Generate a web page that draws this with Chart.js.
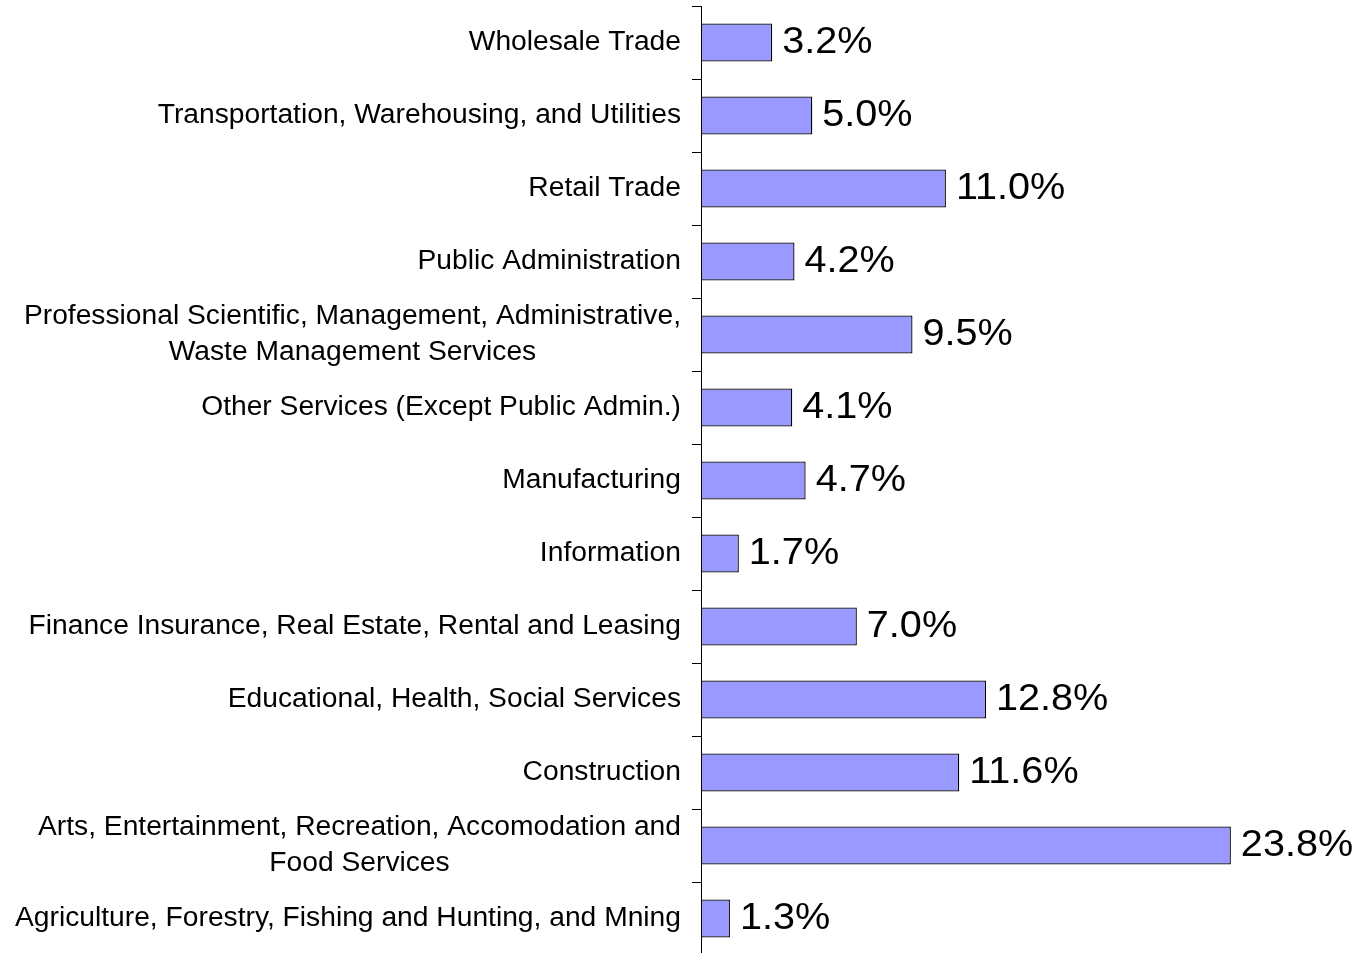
<!DOCTYPE html>
<html>
<head>
<meta charset="utf-8">
<script src="https://cdn.jsdelivr.net/npm/chart.js@4/dist/chart.umd.min.js"></script>
<style>
html,body{margin:0;padding:0;background:#fff;overflow:hidden;}
#c{display:block;}
</style>
</head>
<body>
<canvas id="c" width="1360" height="960"></canvas>
<script>
const categories = [
  ["Wholesale Trade"],
  ["Transportation, Warehousing, and Utilities"],
  ["Retail Trade"],
  ["Public Administration"],
  ["Professional Scientific, Management, Administrative,", "Waste Management Services"],
  ["Other Services (Except Public Admin.)"],
  ["Manufacturing"],
  ["Information"],
  ["Finance Insurance, Real Estate, Rental and Leasing"],
  ["Educational, Health, Social Services"],
  ["Construction"],
  ["Arts, Entertainment, Recreation, Accomodation and", "Food Services"],
  ["Agriculture, Forestry, Fishing and Hunting, and Mning"]
];
const shares = [3.2, 5.0, 11.0, 4.2, 9.5, 4.1, 4.7, 1.7, 7.0, 12.8, 11.6, 23.8, 1.3];

const FONT = '"Liberation Sans", Arial, sans-serif';

function stretchedText(ctx, text, x, y, sx) {
  ctx.save();
  ctx.translate(x, y);
  ctx.scale(sx, 1);
  ctx.fillText(text, 0, 0);
  ctx.restore();
}

const labelPlugin = {
  id: 'labelPlugin',
  afterDraw(chart) {
    const ctx = chart.ctx;
    const yScale = chart.scales.y;
    // category labels (left of axis)
    ctx.save();
    ctx.font = '27px ' + FONT;
    ctx.fillStyle = '#000';
    ctx.textBaseline = 'middle';
    ctx.textAlign = 'center';
    const sx = 1.045;
    const rightEdge = yScale.right - 20;
    const lh = 36;
    chart.data.labels.forEach((lines, i) => {
      const y = yScale.getPixelForValue(i);
      const widest = Math.max(...lines.map(l => ctx.measureText(l).width)) * sx;
      const cx = rightEdge - widest / 2;
      const y0 = y - (lines.length - 1) * lh / 2;
      lines.forEach((l, k) => stretchedText(ctx, l, cx, y0 + k * lh, sx));
    });
    ctx.restore();
    // value labels
    ctx.save();
    ctx.font = '36px ' + FONT;
    ctx.fillStyle = '#000';
    ctx.textBaseline = 'middle';
    ctx.textAlign = 'left';
    const meta = chart.getDatasetMeta(0);
    meta.data.forEach((bar, i) => {
      const v = chart.data.datasets[0].data[i];
      stretchedText(ctx, v.toFixed(1) + '%', bar.x + 10, bar.y + 1, 1.1);
    });
    ctx.restore();
  }
};

new Chart(document.getElementById('c'), {
  type: 'bar',
  data: {
    labels: categories,
    datasets: [{
      data: shares,
      backgroundColor: '#9999FF',
      borderColor: '#000000',
      borderWidth: 1.3,
      borderSkipped: false,
      categoryPercentage: 1,
      barPercentage: 0.52
    }]
  },
  options: {
    indexAxis: 'y',
    responsive: false,
    animation: false,
    layout: { padding: { top: 6, bottom: 5, left: 0, right: 0 } },
    plugins: { legend: { display: false }, tooltip: { enabled: false } },
    scales: {
      x: { display: false, min: 0, max: 29.6 },
      y: {
        afterFit(scale) { scale.width = 701; },
        ticks: { display: false },
        grid: { drawOnChartArea: false, drawTicks: true, tickLength: 9, color: '#000', offset: true },
        border: { display: true, color: '#000', width: 1 }
      }
    }
  },
  plugins: [labelPlugin]
});
</script>
</body>
</html>
